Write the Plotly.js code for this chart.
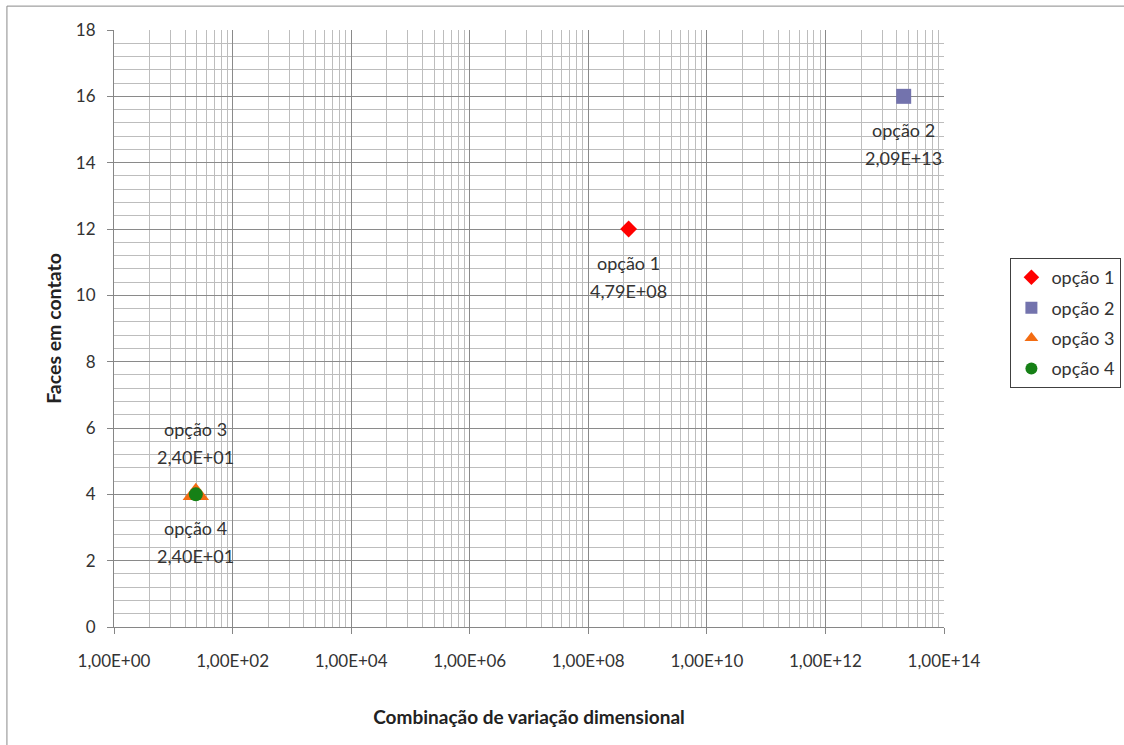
<!DOCTYPE html>
<html>
<head>
<meta charset="utf-8">
<script src="https://cdn.plot.ly/plotly-3.0.1.min.js"></script>
<style>html,body{margin:0;padding:0;background:#fff;}#chart{width:1124px;height:745px;}</style>
</head>
<body>
<div id="chart"></div>
<script>
// ---- data ----
const seriesNames = ['opção 1', 'opção 2', 'opção 3', 'opção 4'];
const xValues = [4.79e8, 2.09e13, 24, 24];
const yValues = [12, 16, 4, 4];
const xTickVals = [1, 1e2, 1e4, 1e6, 1e8, 1e10, 1e12, 1e14];
const xTickText = ['1,00E+00', '1,00E+02', '1,00E+04', '1,00E+06', '1,00E+08', '1,00E+10', '1,00E+12', '1,00E+14'];
const xTitle = 'Combinação de variação dimensional';
const yTitle = 'Faces em contato';

// ---- styles ----
const markerSymbols = ['diamond', 'square', 'triangle-up', 'circle'];
const markerColors = ['#ff0000', '#7373ad', '#f36c12', '#168016'];
const markerSizes = [13, 15, 23, 14];
const labelAbove = [false, false, true, false];
const FONT = 'Lato, "Open Sans", sans-serif';

function fmtExcel(v) {
  const s = v.toExponential(2);
  const parts = s.split('e');
  const mant = parts[0].replace('.', ',');
  let exp = parseInt(parts[1], 10);
  const sign = exp < 0 ? '-' : '+';
  exp = Math.abs(exp);
  return mant + 'E' + sign + (exp < 10 ? '0' + exp : '' + exp);
}

// minor gridlines: Excel log base-100 style (k^2 multiples in each major interval)
const minorX = [];
for (let i = 0; i < xTickVals.length - 1; i++) {
  for (let k = 2; k <= 9; k++) minorX.push(xTickVals[i] * k * k);
}

const traces = seriesNames.map((name, i) => ({
  type: 'scatter',
  mode: 'markers',
  name: name,
  legendgroup: 'g' + i,
  x: [xValues[i]],
  y: [yValues[i]],
  marker: {symbol: markerSymbols[i], color: markerColors[i], size: markerSizes[i], line: {width: 0}},
  hoverinfo: 'skip'
}));

const annotations = [];
seriesNames.forEach((name, i) => {
  const lx = Math.log10(xValues[i]);
  const s1 = labelAbove[i] ? 65 : -34;
  const s2 = labelAbove[i] ? 37 : -62;
  annotations.push({x: lx, y: yValues[i], xref: 'x', yref: 'y', text: name, showarrow: false,
    yshift: s1, font: {family: FONT, size: 18, color: '#333'}});
  annotations.push({x: lx, y: yValues[i], xref: 'x', yref: 'y', text: fmtExcel(xValues[i]), showarrow: false,
    yshift: s2, font: {family: FONT, size: 18, color: '#333'}});
});

const layout = {
  width: 1124, height: 745,
  margin: {l: 114, r: 180, t: 30, b: 118, autoexpand: false},
  paper_bgcolor: '#ffffff', plot_bgcolor: '#ffffff',
  font: {family: FONT, size: 17, color: '#333'},
  showlegend: true,
  legend: {
    x: 1.08, xanchor: 'left', y: 0.618, yanchor: 'top',
    bordercolor: '#404040', borderwidth: 1,
    font: {family: FONT, size: 18, color: '#333'},
    traceorder: 'grouped', tracegroupgap: 4, itemsizing: 'constant',
    itemwidth: 30
  },
  xaxis: {
    type: 'log', range: [0, 14],
    tickmode: 'array', tickvals: xTickVals, ticktext: xTickText,
    showgrid: true, gridcolor: '#8a8a8a', gridwidth: 1,
    showline: true, linecolor: '#868686', linewidth: 1,
    ticks: 'outside', ticklen: 6, tickcolor: '#868686',
    ticklabelstandoff: 13,
    zeroline: false, automargin: false,
    tickfont: {family: FONT, size: 17, color: '#333'},
    minor: {tickmode: 'array', tickvals: minorX, showgrid: true, gridcolor: '#bdbdbd', gridwidth: 1, ticks: ''},
    title: {text: xTitle, standoff: 40, font: {family: FONT, size: 19, color: '#222', weight: 'bold'}}
  },
  yaxis: {
    range: [0, 18], dtick: 2, tick0: 0,
    showgrid: true, gridcolor: '#8a8a8a', gridwidth: 1,
    showline: true, linecolor: '#868686', linewidth: 1,
    ticks: 'outside', ticklen: 6, tickcolor: '#868686',
    ticklabelstandoff: 8,
    zeroline: false, automargin: false,
    tickfont: {family: FONT, size: 17, color: '#333'},
    minor: {dtick: 0.4, showgrid: true, gridcolor: '#bdbdbd', gridwidth: 1, ticks: ''},
    title: {text: yTitle, standoff: 9, font: {family: FONT, size: 19.5, color: '#222', weight: 'bold'}}
  },
  annotations: annotations,
  shapes: [{
    type: 'rect', xref: 'paper', yref: 'paper',
    x0: -0.129, x1: 1.4, y0: -0.3, y1: 1.04,
    line: {color: '#8a8a8a', width: 1}, fillcolor: 'rgba(0,0,0,0)', layer: 'below'
  }]
};

Plotly.newPlot('chart', traces, layout, {displayModeBar: false, staticPlot: true});
</script>
</body>
</html>
